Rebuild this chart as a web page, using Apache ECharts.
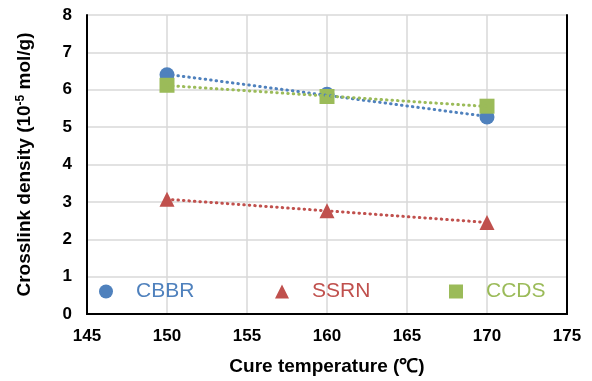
<!DOCTYPE html>
<html>
<head>
<meta charset="utf-8">
<script src="https://cdn.jsdelivr.net/npm/echarts@6/dist/echarts.min.js"></script>
<style>
  html, body { margin: 0; padding: 0; background: #fff; }
  #chart { width: 592px; height: 381px; }
</style>
</head>
<body>
<div id="chart"></div>
<script>
// data
const temps = [150, 160, 170];
const cbbr = [6.4, 5.88, 5.27];
const ssrn = [3.07, 2.76, 2.45];
const ccds = [6.12, 5.82, 5.56];
const xTicks = [145, 150, 155, 160, 165, 170, 175];
const yTicks = [0, 1, 2, 3, 4, 5, 6, 7, 8];

const seriesNames = ['CBBR', 'SSRN', 'CCDS'];
const seriesColors = ['#4f81bd', '#c0504d', '#9bbb59'];
const seriesSymbols = ['circle', 'triangle', 'rect'];
const seriesValues = [cbbr, ssrn, ccds];

const FONT = '"Liberation Sans", Arial, sans-serif';

// linear trendline (least squares) like Excel
function trend(xs, ys) {
  const n = xs.length;
  const mx = xs.reduce((a, b) => a + b, 0) / n;
  const my = ys.reduce((a, b) => a + b, 0) / n;
  let sxy = 0, sxx = 0;
  for (let i = 0; i < n; i++) {
    sxy += (xs[i] - mx) * (ys[i] - my);
    sxx += (xs[i] - mx) * (xs[i] - mx);
  }
  const k = sxy / sxx;
  const b = my - k * mx;
  return [xs[0], xs[n - 1]].map(x => [x, k * x + b]);
}

const chart = echarts.init(document.getElementById('chart'));

const scatterSeries = seriesNames.map((name, i) => ({
  name: name,
  type: 'scatter',
  symbol: seriesSymbols[i],
  symbolSize: 15,
  itemStyle: { color: seriesColors[i], opacity: 1 },
  data: temps.map((t, j) => [t, seriesValues[i][j]]),
  z: 3
}));

const trendSeries = seriesNames.map((name, i) => ({
  name: name + ' trend',
  type: 'line',
  symbol: 'none',
  silent: true,
  lineStyle: { color: seriesColors[i], width: 3, type: [0.5, 5], cap: 'round' },
  data: trend(temps, seriesValues[i]),
  z: 4
}));

const legendLefts = [99, 275, 449];
const legends = seriesNames.map((name, i) => ({
  left: legendLefts[i],
  top: 281,
  padding: 0,
  itemWidth: 14,
  itemHeight: 14,
  icon: seriesSymbols[i],
  data: [{ name: name, textStyle: { color: seriesColors[i] } }],
  textStyle: { fontFamily: FONT, fontSize: 21, padding: [0, 0, 0, 18] },
  selectedMode: false
}));

chart.setOption({
  animation: false,
  backgroundColor: '#fff',
  grid: { left: 87, right: 25, top: 15, bottom: 66 },
  legend: legends,
  xAxis: [{
    type: 'value',
    min: xTicks[0],
    max: xTicks[xTicks.length - 1],
    interval: xTicks[1] - xTicks[0],
    name: 'Cure temperature (℃)',
    nameLocation: 'middle',
    nameGap: 43,
    nameTextStyle: { fontFamily: FONT, fontSize: 19, fontWeight: 'bold', color: '#000' },
    axisLine: { show: true, lineStyle: { color: '#000', width: 2 } },
    axisTick: { show: false },
    axisLabel: { fontFamily: FONT, fontSize: 17, fontWeight: 'bold', color: '#000', margin: 14 },
    splitLine: { show: true, lineStyle: { color: '#d9d9d9', width: 1.5 } }
  }, {
    type: 'value',
    position: 'top',
    min: xTicks[0],
    max: xTicks[xTicks.length - 1],
    axisLine: { show: true, lineStyle: { color: '#000', width: 2 } },
    axisTick: { show: false },
    axisLabel: { show: false },
    splitLine: { show: false },
    z: 5
  }],
  yAxis: [{
    type: 'value',
    min: yTicks[0],
    max: yTicks[yTicks.length - 1],
    interval: yTicks[1] - yTicks[0],
    name: 'Crosslink density (10{sup|-5} mol/g)',
    nameLocation: 'middle',
    nameGap: 52,
    nameTextStyle: {
      fontFamily: FONT, fontSize: 19, fontWeight: 'bold', color: '#000',
      rich: { sup: { fontFamily: FONT, fontSize: 12, fontWeight: 'bold', color: '#000', verticalAlign: 'top', padding: [0, 0, 8, 0] } }
    },
    axisLine: { show: true, lineStyle: { color: '#000', width: 2 } },
    axisTick: { show: false },
    axisLabel: { fontFamily: FONT, fontSize: 17, fontWeight: 'bold', color: '#000', margin: 15 },
    splitLine: { show: true, lineStyle: { color: '#d9d9d9', width: 1.5 } }
  }, {
    type: 'value',
    position: 'right',
    min: yTicks[0],
    max: yTicks[yTicks.length - 1],
    axisLine: { show: true, lineStyle: { color: '#000', width: 2 } },
    axisTick: { show: false },
    axisLabel: { show: false },
    splitLine: { show: false },
    z: 5
  }],
  series: scatterSeries.concat(trendSeries)
});

window.addEventListener('resize', () => chart.resize());
</script>
</body>
</html>
